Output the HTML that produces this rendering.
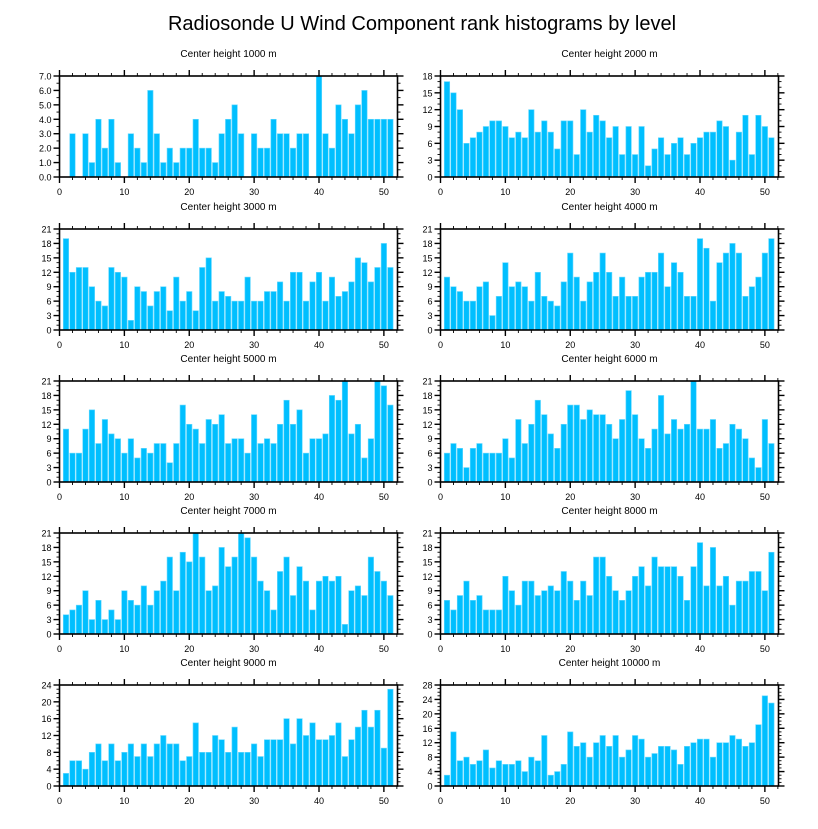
<!DOCTYPE html>
<html><head><meta charset="utf-8">
<style>
body{margin:0;background:#fff;}
svg text{font-family:"Liberation Sans",sans-serif;fill:#000;}
</style></head>
<body>
<svg id="chart" width="818" height="824" viewBox="0 0 818 824" xmlns="http://www.w3.org/2000/svg">
<text x="422" y="30" font-size="20" text-anchor="middle">Radiosonde U Wind Component rank histograms by level</text>
</svg>
<script>
const ranks = [];
for (let i = 1; i <= 51; i++) ranks.push(i);
const xTicks = [0,10,20,30,40,50];
const panelTitles = ["Center height 1000 m","Center height 2000 m","Center height 3000 m","Center height 4000 m","Center height 5000 m","Center height 6000 m","Center height 7000 m","Center height 8000 m","Center height 9000 m","Center height 10000 m"];
const h1000 = [0,3,0,3,1,4,2,4,1,0,3,2,1,6,3,1,2,1,2,2,4,2,2,1,3,4,5,3,0,3,2,2,4,3,3,2,3,3,0,7,3,2,5,4,3,5,6,4,4,4,4];
const h2000 = [17,15,12,6,7,8,9,10,10,9,7,8,7,12,8,10,8,5,10,10,4,12,8,11,10,7,9,4,9,4,9,2,5,7,4,6,7,4,6,7,8,8,10,9,3,8,11,4,11,9,7];
const h3000 = [19,12,13,13,9,6,5,13,12,11,2,9,8,5,8,9,4,11,6,8,4,13,15,6,8,7,6,6,11,6,6,8,8,10,6,12,12,6,10,12,6,11,7,8,10,15,14,10,13,18,13];
const h4000 = [11,9,8,6,6,9,10,3,7,14,9,10,9,6,12,7,6,5,10,16,11,6,10,12,16,12,7,11,7,7,11,12,12,16,9,14,12,7,7,19,17,6,14,16,18,16,7,9,11,16,19];
const h5000 = [11,6,6,11,15,8,13,10,9,6,9,5,7,6,8,8,4,8,16,12,11,8,13,12,14,8,9,9,6,14,8,9,8,12,17,12,15,6,9,9,10,18,17,21,10,12,5,9,21,20,16];
const h6000 = [6,8,7,3,7,8,6,6,6,9,5,13,8,12,17,14,10,7,12,16,16,13,15,14,14,12,9,13,19,14,9,7,11,18,10,13,11,12,21,11,11,13,7,8,12,11,9,5,3,13,8];
const h7000 = [4,5,6,9,3,7,3,5,3,9,7,6,10,6,9,11,16,9,17,15,21,16,9,10,18,14,16,21,20,16,11,9,5,13,16,8,14,11,5,11,12,11,12,2,9,10,8,16,13,11,8];
const h8000 = [7,5,8,11,7,8,5,5,5,12,9,6,11,11,8,9,10,9,13,11,7,11,8,16,16,12,9,7,9,12,14,10,16,14,14,14,12,7,14,19,10,18,10,12,6,11,11,13,13,9,17];
const h9000 = [3,6,6,4,8,10,6,10,6,8,10,7,10,7,10,12,10,10,6,7,15,8,8,12,11,8,14,8,8,10,7,11,11,11,16,10,16,12,15,11,11,12,15,7,11,14,18,14,18,9,23];
const h10000 = [3,15,7,8,6,7,10,5,7,6,6,7,4,8,7,14,3,4,6,15,11,12,8,12,14,11,14,8,10,14,13,8,9,11,11,10,6,11,12,13,13,8,12,12,14,13,11,12,17,25,23];
const yMaxes = [7,18,21,21,21,21,21,21,24,28];
const yStepsList = [1,3,3,3,3,3,3,3,4,4];

const series = [h1000,h2000,h3000,h4000,h5000,h6000,h7000,h8000,h9000,h10000];
const NS = "http://www.w3.org/2000/svg";
const svg = document.getElementById('chart');
function mk(tag, attrs, parent){
  const e = document.createElementNS(NS, tag);
  for (const k in attrs) e.setAttribute(k, attrs[k]);
  (parent||svg).appendChild(e);
  return e;
}
const colLeft = [59.5, 440.5];
const rowTop = [76, 229, 381, 533, 685];
const PW = 338, PH = 101, XMAX = 52.1;

series.forEach((vals, p) => {
  const col = p % 2, row = Math.floor(p/2);
  const L = colLeft[col], T = rowTop[row], B = T + PH, R = L + PW;
  const ymax = yMaxes[p], step = yStepsList[p];
  const xs = v => L + v / XMAX * PW;
  const ys = v => B - v / ymax * PH;
  const g = mk('g', {});
  
  
  const t = mk('text', {x: (L+R)/2, y: T - 19, 'font-size': 10, 'text-anchor': 'middle'}, g);
  t.textContent = panelTitles[p];
  
  
  const bw = 0.84 / XMAX * PW;
  vals.forEach((v, i) => {
    if (v <= 0) return;
    const r = mk('rect', {x: xs(ranks[i]) - bw/2, y: ys(v), width: bw, height: B - ys(v), fill: '#00bfff', stroke: '#66d9ff', 'stroke-width': 0.6}, g);
    
    
  });
  const fr = mk('rect', {x: L, y: T, width: PW, height: PH, fill: 'none', stroke: '#000', 'stroke-width': 1.6}, g);
  
  
  // x ticks
  for (let v = 0; v <= 52; v += 2) {
    const major = v % 10 === 0;
    const len = major ? 6 : 3;
    const x = xs(v);
    if (x > R + 0.5) break;
    mk('line', {x1: x, x2: x, y1: B, y2: B + len, stroke: '#000', 'stroke-width': major ? 1.4 : 0.9}, g);
    mk('line', {x1: x, x2: x, y1: T, y2: T - len, stroke: '#000', 'stroke-width': major ? 1.4 : 0.9}, g);
  }
  xTicks.forEach(v => {
    const tl = mk('text', {x: xs(v), y: B + 18, 'font-size': 9, 'text-anchor': 'middle'}, g);
    tl.textContent = v;
    
    
  });
  // y ticks
  const nMinor = step === 1 ? 2 : step === 3 ? 3 : 4;
  for (let k = 0; k <= ymax / step * nMinor + 1e-9; k++) {
    const v = k * step / nMinor;
    const major = k % nMinor === 0;
    const len = major ? 6 : 3;
    const y = ys(v);
    mk('line', {x1: L, x2: L - len, y1: y, y2: y, stroke: '#000', 'stroke-width': major ? 1.4 : 0.9}, g);
    mk('line', {x1: R, x2: R + len, y1: y, y2: y, stroke: '#000', 'stroke-width': major ? 1.4 : 0.9}, g);
    if (major) {
      const yl = mk('text', {x: L - 8, y: y + 3.5, 'font-size': 9, 'text-anchor': 'end'}, g);
      yl.textContent = step === 1 ? v.toFixed(1) : Math.round(v);
      
      
    }
  }
});
</script>
</body></html>
